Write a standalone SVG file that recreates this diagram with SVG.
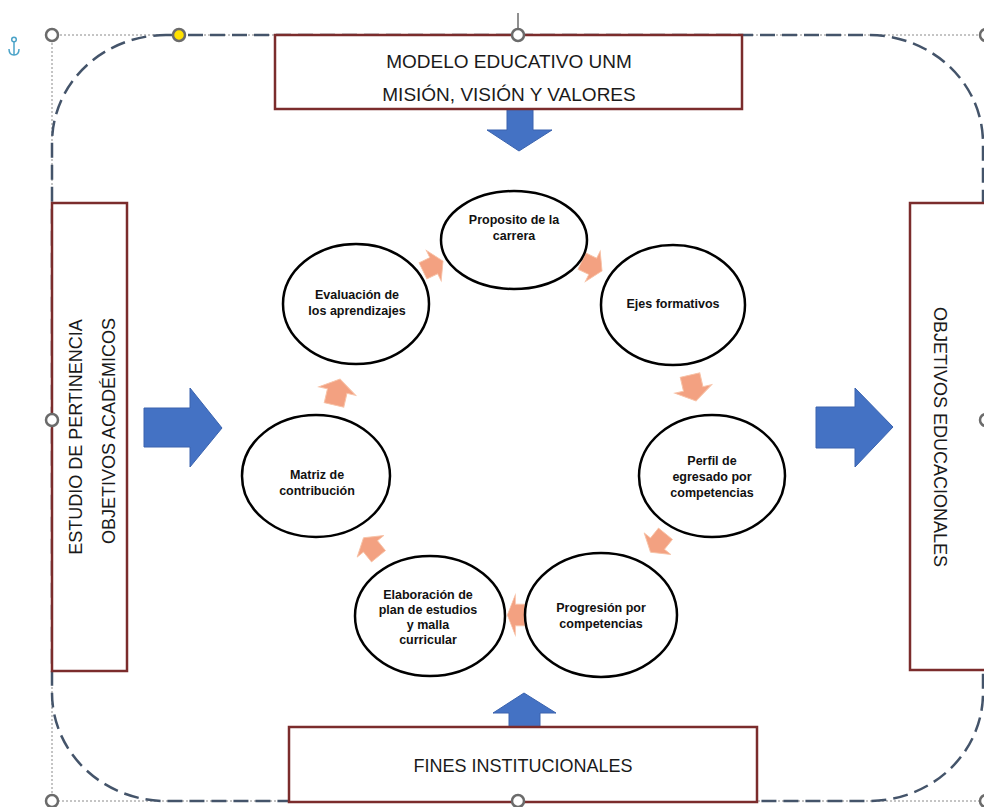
<svg xmlns="http://www.w3.org/2000/svg" width="984" height="807" viewBox="0 0 984 807">
<style>
.sel{fill:none;stroke:#8a8a8a;stroke-width:1;stroke-dasharray:2 2}
.border{fill:none;stroke:#44546A;stroke-width:2.5;stroke-dasharray:15 7}
.box{fill:#fff;stroke:#7B2C2C;stroke-width:2.5}
.boxt{font-family:"Liberation Sans",Arial,sans-serif;fill:#1a1a1a;text-anchor:middle}
.ell{fill:#fff;stroke:#000;stroke-width:2.5}
.et{font-family:"Liberation Sans",Arial,sans-serif;font-weight:bold;font-size:12.5px;fill:#111;text-anchor:middle}
.barrow{fill:#4472C4;stroke:#3A63AE;stroke-width:1}
.oarrow{fill:#F3A181;stroke:#F7C2A7;stroke-width:1}
.handle{fill:#fff;stroke:#6b6b6b;stroke-width:2.5}
</style>
<defs>
<path id="oa" d="M-14,-10 H1 V-19 L14,0 L1,19 V10 H-14 Z"/>
</defs>
<rect width="984" height="807" fill="#fff"/>

<g id="selection-frame">
<rect class="sel" x="52" y="35" width="933" height="766"/>
<line x1="518" y1="13" x2="518" y2="29" stroke="#6b6b6b" stroke-width="1.5"/>
</g>

<g id="dashed-border">
<rect class="border" x="52" y="35" width="931" height="766" rx="114" ry="108"/>
</g>

<g id="anchor" fill="none" stroke="#4BA3C8" stroke-width="1.5">
<circle cx="14" cy="39.5" r="2.3"/>
<line x1="14" y1="42" x2="14" y2="55"/>
<path d="M9,49 Q9,55 14,55 Q19,55 19,49"/>
</g>

<g id="connectors">
<path class="barrow" d="M507,109 H533 V130 H552 L519,151 L487,130 H507 Z"/>
<path class="barrow" d="M509,727 H540 V713 H556 L524,693 L493,713 H509 Z"/>
<path class="barrow" d="M144,408 H190 V388 L222,428 L190,467 V447 H144 Z"/>
<path class="barrow" d="M816,407 H855 V388 L893,427 L855,467 V448 H816 Z"/>
<use href="#oa" class="oarrow" transform="translate(433,266) rotate(-26) scale(0.8,0.9)"/>
<use href="#oa" class="oarrow" transform="translate(592,266) rotate(26) scale(0.8,0.9)"/>
<use href="#oa" class="oarrow" transform="translate(693,388) rotate(77) scale(0.95,1)"/>
<use href="#oa" class="oarrow" transform="translate(658,543) rotate(129) scale(0.85,0.9)"/>
<use href="#oa" class="oarrow" transform="translate(516,615) rotate(180) scale(0.62,1.08)"/>
<use href="#oa" class="oarrow" transform="translate(371,547) rotate(-129) scale(0.85,0.9)"/>
<use href="#oa" class="oarrow" transform="translate(337,392) rotate(-77) scale(0.95,1)"/>
</g>

<g id="box-top">
<rect class="box" x="275" y="35" width="467" height="74"/>
<text class="boxt" x="509" y="68" font-size="19">MODELO EDUCATIVO UNM</text>
<text class="boxt" x="509" y="101" font-size="19">MISIÓN, VISIÓN Y VALORES</text>
</g>

<g id="box-left">
<rect class="box" x="52" y="203" width="75" height="468"/>
<text class="boxt" font-size="18" transform="translate(82,437) rotate(-90)">ESTUDIO DE PERTINENCIA</text>
<text class="boxt" font-size="18" transform="translate(115,431) rotate(-90)">OBJETIVOS ACADÉMICOS</text>
</g>

<g id="box-right">
<rect class="box" x="910" y="203" width="82" height="467"/>
<text class="boxt" font-size="18" transform="translate(934,437) rotate(90)">OBJETIVOS EDUCACIONALES</text>
</g>

<g id="box-bottom">
<rect class="box" x="289" y="727" width="468" height="75"/>
<text class="boxt" x="523" y="772" font-size="18">FINES INSTITUCIONALES</text>
</g>

<g id="node-proposito">
<ellipse class="ell" cx="514" cy="240" rx="73" ry="49"/>
<text class="et" x="514" y="224">Proposito de la</text>
<text class="et" x="514" y="240">carrera</text>
</g>
<g id="node-ejes">
<ellipse class="ell" cx="673" cy="305" rx="72" ry="60"/>
<text class="et" x="673" y="308">Ejes formativos</text>
</g>
<g id="node-perfil">
<ellipse class="ell" cx="712" cy="476" rx="73" ry="61"/>
<text class="et" x="712" y="465">Perfil de</text>
<text class="et" x="712" y="481">egresado por</text>
<text class="et" x="712" y="497">competencias</text>
</g>
<g id="node-progresion">
<ellipse class="ell" cx="601" cy="615" rx="76" ry="62"/>
<text class="et" x="601" y="612">Progresión por</text>
<text class="et" x="601" y="628">competencias</text>
</g>
<g id="node-elaboracion">
<ellipse class="ell" cx="430" cy="616" rx="75" ry="60"/>
<text class="et" x="428" y="599">Elaboración de</text>
<text class="et" x="428" y="614">plan de estudios</text>
<text class="et" x="428" y="629">y malla</text>
<text class="et" x="428" y="644">curricular</text>
</g>
<g id="node-matriz">
<ellipse class="ell" cx="316" cy="476" rx="74" ry="61"/>
<text class="et" x="317" y="479">Matriz de</text>
<text class="et" x="317" y="495">contribución</text>
</g>
<g id="node-evaluacion">
<ellipse class="ell" cx="356" cy="304" rx="73" ry="60"/>
<text class="et" x="357" y="299">Evaluación de</text>
<text class="et" x="357" y="315">los aprendizajes</text>
</g>

<g id="handles">
<circle class="handle" cx="52" cy="35" r="6"/>
<circle cx="179" cy="35" r="6" fill="#FFE100" stroke="#6b6b6b" stroke-width="2.5"/>
<circle class="handle" cx="518" cy="35" r="6"/>
<circle class="handle" cx="986" cy="35" r="6"/>
<circle class="handle" cx="52" cy="420" r="6"/>
<circle class="handle" cx="986" cy="420" r="6"/>
<circle class="handle" cx="52" cy="801" r="6"/>
<circle class="handle" cx="518" cy="801" r="6"/>
<circle class="handle" cx="986" cy="801" r="6"/>
</g>
</svg>
